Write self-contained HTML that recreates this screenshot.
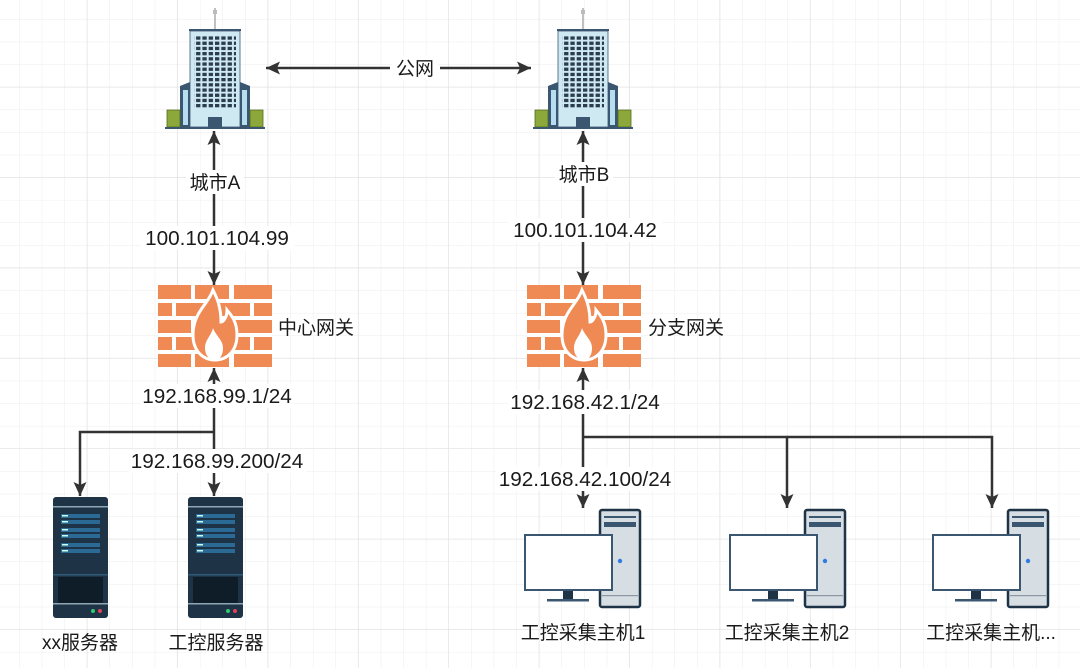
<!DOCTYPE html>
<html><head><meta charset="utf-8"><style>
html,body{margin:0;padding:0;background:#fff}
svg{display:block}
text{font-family:"Liberation Sans","Noto Sans CJK SC",sans-serif;font-size:19px;fill:#1a1a1a}
text.ip{font-size:20.7px}
</style></head><body>
<svg width="1080" height="668" viewBox="0 0 1080 668" xmlns="http://www.w3.org/2000/svg">
<defs>
<pattern id="g" x="-3" y="-3" width="22.6" height="22.6" patternUnits="userSpaceOnUse">
<path d="M22.6 0V22.6M0 22.6H22.6" stroke="#ececec" stroke-width="1" fill="none"/>
</pattern>
<pattern id="G" x="-3" y="-3" width="90.4" height="90.4" patternUnits="userSpaceOnUse">
<path d="M90.4 0V90.4M0 90.4H90.4" stroke="#e0e0e0" stroke-width="1.3" fill="none"/>
</pattern>
<marker id="a" viewBox="0 0 14 14" refX="14" refY="7" markerWidth="14" markerHeight="14" markerUnits="userSpaceOnUse" orient="auto"><path d="M0 0.5L14 7L0 13.5L3 7z" fill="#333"/></marker>
<pattern id="win" x="0" y="0" width="6.3" height="5.2" patternUnits="userSpaceOnUse"><rect width="4.3" height="3.3" fill="#2a3c4e"/></pattern>
<g id="bld">
<line x1="0" y1="8" x2="0" y2="30" stroke="#aaa" stroke-width="1.5"/>
<rect x="-2" y="10" width="4" height="4" fill="#bbb"/>
<rect x="-26" y="29" width="52" height="2" fill="#3b5670"/>
<rect x="-25" y="31" width="50" height="96" fill="#cfe9f3" stroke="#3b5670" stroke-width="0.8"/>
<rect x="-21" y="35" width="42" height="73" fill="url(#win)"/>
<path d="M-35 86l10-4v45h-10z" fill="#3b5670"/>
<path d="M35 86l-10-4v45h10z" fill="#3b5670"/>
<rect x="-32" y="90" width="5" height="35" fill="#b6def0"/>
<rect x="27" y="90" width="5" height="35" fill="#b6def0"/>
<rect x="-48" y="110" width="13" height="17" fill="#8da83a" stroke="#55691f" stroke-width="0.8"/>
<rect x="35" y="110" width="13" height="17" fill="#8da83a" stroke="#55691f" stroke-width="0.8"/>
<rect x="-7" y="117" width="14" height="10" fill="#3b5670"/>
<rect x="-50" y="127" width="100" height="2" fill="#3b5670"/>
</g>
<g id="fw">
<rect x="0" y="0" width="114" height="82" fill="#fff"/>
<g fill="#f08a55">
<rect x="0" y="0" width="33" height="14"/><rect x="37" y="0" width="34" height="14"/><rect x="76" y="0" width="38" height="14"/>
<rect x="0" y="18" width="14" height="13"/><rect x="18" y="18" width="35" height="13"/><rect x="57" y="18" width="35" height="13"/><rect x="96" y="18" width="18" height="13"/>
<rect x="0" y="35" width="33" height="13"/><rect x="37" y="35" width="34" height="13"/><rect x="76" y="35" width="38" height="13"/>
<rect x="0" y="52" width="14" height="13"/><rect x="18" y="52" width="35" height="13"/><rect x="57" y="52" width="35" height="13"/><rect x="96" y="52" width="18" height="13"/>
<rect x="0" y="69" width="33" height="13"/><rect x="37" y="69" width="34" height="13"/><rect x="76" y="69" width="38" height="13"/>
</g>
<path d="M55 5c-5 15-20 22-20 45c0 16 10 25 22 25c12 0 22-9 22-25c0-14-6-20-10-25c0 8-4 12-6 12c0-15-4-24-8-32z" fill="#f08a55" stroke="#fff" stroke-width="3"/>
<path d="M57 75c-6 0-10-5-10-12c0-8 6-12 8-20c3 8 10 12 10 20c0 7-3 12-8 12z" fill="#fff"/>
</g>
<g id="srv">
<rect x="0" y="0" width="55" height="121" rx="3" fill="#1e3446"/>
<rect x="0" y="9" width="55" height="1.5" fill="#8fa6b6"/>
<g fill="#2a6a94"><rect x="8" y="17" width="39" height="4"/><rect x="8" y="23" width="39" height="4"/><rect x="8" y="31" width="39" height="4"/><rect x="8" y="37" width="39" height="4"/><rect x="8" y="46" width="39" height="4"/><rect x="8" y="52" width="39" height="4"/></g>
<g fill="#cfe" ><rect x="9" y="18" width="6" height="1.5"/><rect x="9" y="24" width="6" height="1.5"/><rect x="9" y="32" width="6" height="1.5"/><rect x="9" y="38" width="6" height="1.5"/><rect x="9" y="47" width="6" height="1.5"/><rect x="9" y="53" width="6" height="1.5"/></g>
<rect x="0" y="77" width="55" height="1.5" fill="#2f5a78"/>
<rect x="5" y="80" width="45" height="26" fill="#0f1d28"/>
<rect x="0" y="106" width="55" height="1.5" fill="#8fa6b6"/>
<circle cx="40" cy="114" r="2" fill="#2ecc71"/><circle cx="47" cy="114" r="2" fill="#e0405a"/>
</g>
<g id="pc">
<rect x="75" y="0" width="40" height="97" rx="2" fill="#d6dde3" stroke="#1e3446" stroke-width="2.5"/>
<rect x="79" y="6" width="32" height="2" fill="#3b5670"/>
<rect x="79" y="12" width="32" height="5" fill="#3b5670"/>
<rect x="77" y="85" width="36" height="1.2" fill="#8b96a0"/>
<circle cx="95" cy="51" r="2.2" fill="#2f7be0"/>
<rect x="0" y="25" width="87" height="55" fill="#fff" stroke="#3b5670" stroke-width="2"/>
<rect x="38" y="81" width="10" height="8" fill="#1e3446"/>
<rect x="22" y="89" width="42" height="2.5" fill="#3b5670"/>
</g>
</defs>
<rect width="1080" height="668" fill="url(#g)"/>
<rect width="1080" height="668" fill="url(#G)"/>

<use href="#bld" x="215" y="0"/>
<use href="#bld" x="583" y="0"/>

<g stroke="#333" stroke-width="2.5" fill="none">
<line x1="390" y1="68" x2="266" y2="68" marker-end="url(#a)"/>
<line x1="440" y1="68" x2="531" y2="68" marker-end="url(#a)"/>
<line x1="214" y1="200" x2="214" y2="131" marker-end="url(#a)"/>
<line x1="214" y1="200" x2="214" y2="285" marker-end="url(#a)"/>
<line x1="583" y1="200" x2="583" y2="131" marker-end="url(#a)"/>
<line x1="583" y1="200" x2="583" y2="285" marker-end="url(#a)"/>
<line x1="214" y1="432" x2="214" y2="368" marker-end="url(#a)"/>
<path d="M214 432H80V496" marker-end="url(#a)"/>
<line x1="214" y1="432" x2="214" y2="496" marker-end="url(#a)"/>
<line x1="583" y1="437" x2="583" y2="368" marker-end="url(#a)"/>
<line x1="583" y1="437" x2="583" y2="508" marker-end="url(#a)"/>
<path d="M583 437H787V508" marker-end="url(#a)"/>
<path d="M787 437H992V508" marker-end="url(#a)"/>
</g>

<use href="#fw" x="158" y="285"/>
<use href="#fw" x="527" y="285"/>
<use href="#srv" x="53" y="497"/>
<use href="#srv" x="188" y="497"/>
<use href="#pc" x="525" y="510"/>
<use href="#pc" x="730" y="510"/>
<use href="#pc" x="933" y="510"/>

<g text-anchor="middle">
<rect x="392" y="56" width="46" height="24" fill="#fff"/>
<text x="415" y="75">公网</text>
<rect x="186" y="170" width="58" height="24" fill="#fff"/>
<text x="215" y="189">城市A</text>
<rect x="140" y="226" width="154" height="24" fill="#fff"/>
<text class="ip" x="217" y="245">100.101.104.99</text>
<rect x="555" y="162" width="58" height="24" fill="#fff"/>
<text x="584" y="181">城市B</text>
<rect x="508" y="218" width="154" height="24" fill="#fff"/>
<text class="ip" x="585" y="237">100.101.104.42</text>
<rect x="140" y="384" width="154" height="24" fill="#fff"/>
<text class="ip" x="217" y="403">192.168.99.1/24</text>
<rect x="128" y="449" width="178" height="24" fill="#fff"/>
<text class="ip" x="217" y="468">192.168.99.200/24</text>
<rect x="508" y="390" width="154" height="24" fill="#fff"/>
<text class="ip" x="585" y="409">192.168.42.1/24</text>
<rect x="496" y="467" width="178" height="24" fill="#fff"/>
<text class="ip" x="585" y="486">192.168.42.100/24</text>
<text x="80" y="649">xx服务器</text>
<text x="216" y="649">工控服务器</text>
<text x="583" y="639">工控采集主机1</text>
<text x="787" y="639">工控采集主机2</text>
<text x="991" y="639">工控采集主机...</text>
</g>
<text x="278" y="334">中心网关</text>
<text x="648" y="334">分支网关</text>
</svg>
</body></html>
